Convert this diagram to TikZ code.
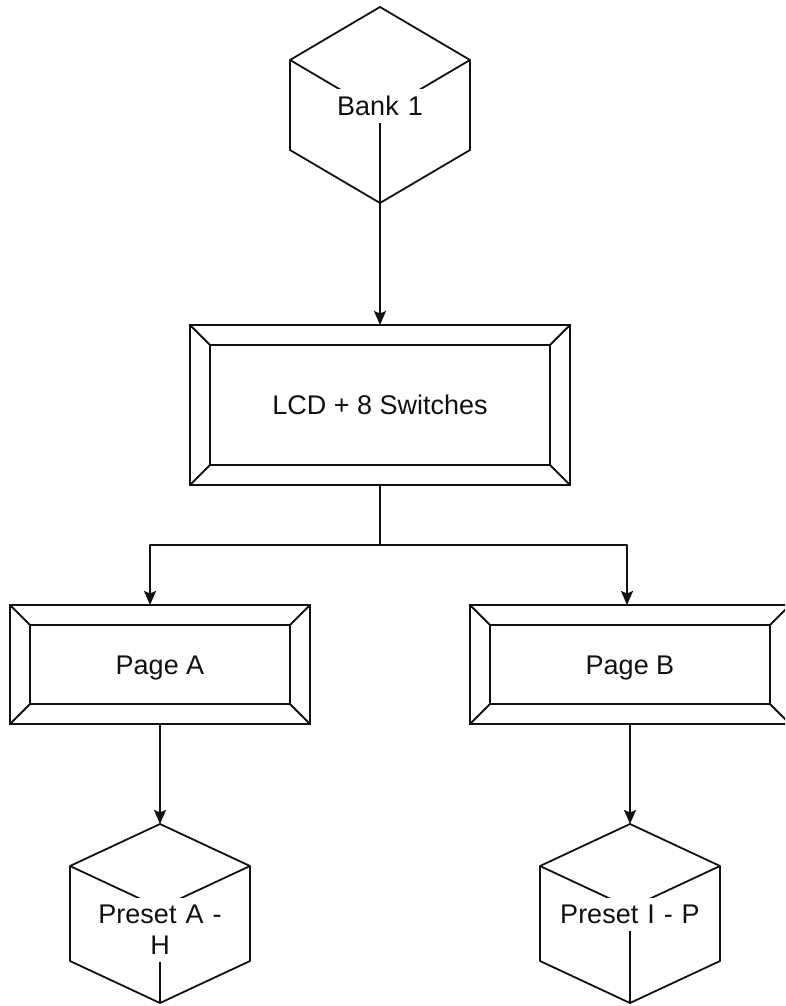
\documentclass[tikz,border=0pt]{standalone}
\usepackage{fontspec}
\setmainfont{Liberation Sans}
\usetikzlibrary{arrows.meta,calc}
\definecolor{ln}{HTML}{111111}
\definecolor{tx}{HTML}{111111}
\newcommand\isocube[5]{% #1 name, #2 centre x, #3 top y, #4 rise, #5 side height
  \coordinate (#1-t) at (#2,#3);
  \coordinate (#1-ul) at (#2-90,#3+#4);
  \coordinate (#1-ll) at (#2-90,#3+#4+#5);
  \coordinate (#1-b) at (#2,#3+2*#4+#5);
  \coordinate (#1-lr) at (#2+90,#3+#4+#5);
  \coordinate (#1-ur) at (#2+90,#3+#4);
  \coordinate (#1-c) at (#2,#3+2*#4);
  \draw[edge] (#1-t) -- (#1-ul) -- (#1-ll) -- (#1-b) -- (#1-lr) -- (#1-ur) -- cycle;
  \draw[edge] (#1-ul) -- (#1-c) -- (#1-ur) (#1-c) -- (#1-b);}
\newcommand\bevelinner[1]{%
  \draw[edge] ([shift={(20,20)}]#1.north west) rectangle ([shift={(-20,-20)}]#1.south east);
  \draw[edge] (#1.north west) -- ([shift={(20,20)}]#1.north west)
              (#1.north east) -- ([shift={(-20,20)}]#1.north east)
              (#1.south west) -- ([shift={(20,-20)}]#1.south west)
              (#1.south east) -- ([shift={(-20,-20)}]#1.south east);}
\begin{document}
\begin{tikzpicture}[x=1pt,y=-1pt,
  edge/.style={draw=ln, line width=1.8pt, line join=round},
  arr/.style={edge, -{Stealth[length=14pt, width=12pt, inset=2.5pt]}},
  every node/.style={font=\fontsize{27}{31}\selectfont, text=tx},
  bevelbox/.style={draw=ln, line width=1.8pt, outer sep=0pt, inner sep=0pt,
                   text height=19pt, text depth=0pt},
  cubelabel/.style={fill=white, text width=140pt, align=center,
                    inner xsep=0pt, inner ysep=7pt, anchor=north}]
\useasboundingbox (0,0) rectangle (785,1006);
\clip (0,0) rectangle (785,1006);

% cubes
\isocube{bk}{380}{7}{53}{90}
\node[cubelabel] (bank) at (380,89) {Bank 1};

\isocube{pa}{160}{824}{42}{95}
\node[cubelabel] (preseta) at (160,898) {Preset A -\\H};

\isocube{pb}{630}{824}{42}{95}
\node[cubelabel] (presetb) at (630,898) {Preset I - P};

% bevelled boxes
\node[bevelbox, minimum width=380pt, minimum height=160pt] (lcd) at (380,405) {LCD + 8 Switches};
\bevelinner{lcd}
\node[bevelbox, minimum width=300pt, minimum height=119pt] (pagea) at (160,664.5) {Page A};
\bevelinner{pagea}
\node[bevelbox, minimum width=320pt, minimum height=119pt] (pageb) at (630,664.5) {Page B};
\bevelinner{pageb}

% connectors
\draw[arr] (bk-b) -- (lcd.north);
\draw[arr] (lcd.south) -- ++(0,60) -| ([xshift=-10pt]pagea.north);
\draw[arr] (lcd.south) -- ++(0,60) -| ([xshift=-3pt]pageb.north);
\draw[arr] (pagea.south) -- (pa-t);
\draw[arr] (pageb.south) -- (pb-t);
\end{tikzpicture}
\end{document}
